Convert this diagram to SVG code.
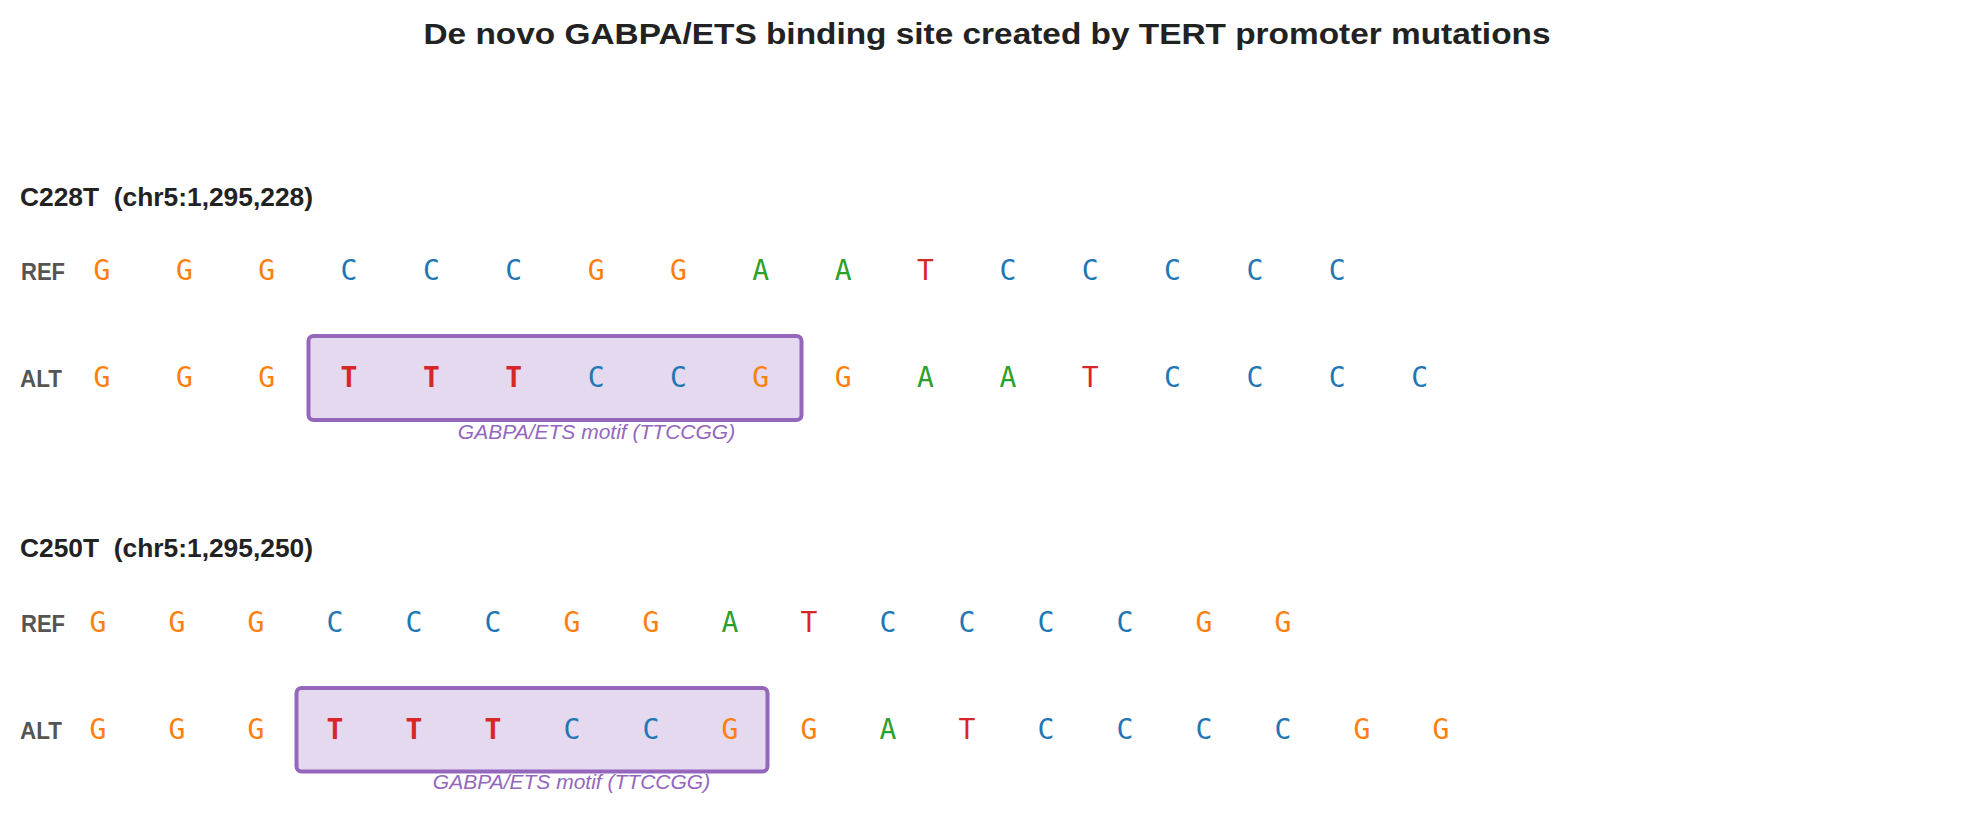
<svg xmlns="http://www.w3.org/2000/svg" width="1974" height="814" viewBox="0 0 1974 814">
<style>
.title{font-family:"Liberation Sans",Arial,sans-serif;font-weight:bold;font-size:30px;fill:#222}
.hdr{font-family:"Liberation Sans",Arial,sans-serif;font-weight:bold;font-size:26px;fill:#222}
.lab{font-family:"Liberation Sans",Arial,sans-serif;font-weight:bold;font-size:24px;fill:#555}
.nt{font-family:"DejaVu Sans Mono",monospace;font-size:28px;text-anchor:middle}
.g{fill:#ff7f0e}.c{fill:#1f77b4}.a{fill:#2ca02c}.t{fill:#d62728}
.b{font-weight:bold}
.motif{fill:#e4d9ee;stroke:#9467bd;stroke-width:4}
.mlab{font-family:"Liberation Sans",Arial,sans-serif;font-style:italic;font-size:21px;fill:#9467bd;text-anchor:middle}
</style>
<rect width="1974" height="814" fill="#ffffff"/>
<text class="title" x="987" y="44" text-anchor="middle" textLength="1127" lengthAdjust="spacingAndGlyphs">De novo GABPA/ETS binding site created by TERT promoter mutations</text>

<g id="c228t">
<text class="hdr" x="20" y="206" xml:space="preserve" textLength="293" lengthAdjust="spacingAndGlyphs">C228T  (chr5:1,295,228)</text>
<g id="c228t-ref">
<text class="lab" x="21" y="280" textLength="44" lengthAdjust="spacingAndGlyphs">REF</text>
<text class="nt g" x="102" y="280">G</text>
<text class="nt g" x="184.35" y="280">G</text>
<text class="nt g" x="266.7" y="280">G</text>
<text class="nt c" x="349.05" y="280">C</text>
<text class="nt c" x="431.4" y="280">C</text>
<text class="nt c" x="513.75" y="280">C</text>
<text class="nt g" x="596.1" y="280">G</text>
<text class="nt g" x="678.45" y="280">G</text>
<text class="nt a" x="760.8" y="280">A</text>
<text class="nt a" x="843.15" y="280">A</text>
<text class="nt t" x="925.5" y="280">T</text>
<text class="nt c" x="1007.85" y="280">C</text>
<text class="nt c" x="1090.2" y="280">C</text>
<text class="nt c" x="1172.55" y="280">C</text>
<text class="nt c" x="1254.9" y="280">C</text>
<text class="nt c" x="1337.25" y="280">C</text>
</g>
<g id="c228t-motif">
<rect class="motif" x="308.5" y="336" width="493" height="84" rx="5"/>
<text class="mlab" x="596.5" y="439">GABPA/ETS motif (TTCCGG)</text>
</g>
<g id="c228t-alt">
<text class="lab" x="20" y="387" textLength="42" lengthAdjust="spacingAndGlyphs">ALT</text>
<text class="nt g" x="102" y="387">G</text>
<text class="nt g" x="184.35" y="387">G</text>
<text class="nt g" x="266.7" y="387">G</text>
<text class="nt t b" x="349.05" y="387">T</text>
<text class="nt t b" x="431.4" y="387">T</text>
<text class="nt t b" x="513.75" y="387">T</text>
<text class="nt c" x="596.1" y="387">C</text>
<text class="nt c" x="678.45" y="387">C</text>
<text class="nt g" x="760.8" y="387">G</text>
<text class="nt g" x="843.15" y="387">G</text>
<text class="nt a" x="925.5" y="387">A</text>
<text class="nt a" x="1007.85" y="387">A</text>
<text class="nt t" x="1090.2" y="387">T</text>
<text class="nt c" x="1172.55" y="387">C</text>
<text class="nt c" x="1254.9" y="387">C</text>
<text class="nt c" x="1337.25" y="387">C</text>
<text class="nt c" x="1419.6" y="387">C</text>
</g>
</g>

<g id="c250t">
<text class="hdr" x="20" y="557" xml:space="preserve" textLength="293" lengthAdjust="spacingAndGlyphs">C250T  (chr5:1,295,250)</text>
<g id="c250t-ref">
<text class="lab" x="21" y="632" textLength="44" lengthAdjust="spacingAndGlyphs">REF</text>
<text class="nt g" x="98" y="632">G</text>
<text class="nt g" x="177" y="632">G</text>
<text class="nt g" x="256" y="632">G</text>
<text class="nt c" x="335" y="632">C</text>
<text class="nt c" x="414" y="632">C</text>
<text class="nt c" x="493" y="632">C</text>
<text class="nt g" x="572" y="632">G</text>
<text class="nt g" x="651" y="632">G</text>
<text class="nt a" x="730" y="632">A</text>
<text class="nt t" x="809" y="632">T</text>
<text class="nt c" x="888" y="632">C</text>
<text class="nt c" x="967" y="632">C</text>
<text class="nt c" x="1046" y="632">C</text>
<text class="nt c" x="1125" y="632">C</text>
<text class="nt g" x="1204" y="632">G</text>
<text class="nt g" x="1283" y="632">G</text>
</g>
<g id="c250t-motif">
<rect class="motif" x="296.5" y="688" width="471" height="83.5" rx="5"/>
<text class="mlab" x="571.5" y="789">GABPA/ETS motif (TTCCGG)</text>
</g>
<g id="c250t-alt">
<text class="lab" x="20" y="739" textLength="42" lengthAdjust="spacingAndGlyphs">ALT</text>
<text class="nt g" x="98" y="739">G</text>
<text class="nt g" x="177" y="739">G</text>
<text class="nt g" x="256" y="739">G</text>
<text class="nt t b" x="335" y="739">T</text>
<text class="nt t b" x="414" y="739">T</text>
<text class="nt t b" x="493" y="739">T</text>
<text class="nt c" x="572" y="739">C</text>
<text class="nt c" x="651" y="739">C</text>
<text class="nt g" x="730" y="739">G</text>
<text class="nt g" x="809" y="739">G</text>
<text class="nt a" x="888" y="739">A</text>
<text class="nt t" x="967" y="739">T</text>
<text class="nt c" x="1046" y="739">C</text>
<text class="nt c" x="1125" y="739">C</text>
<text class="nt c" x="1204" y="739">C</text>
<text class="nt c" x="1283" y="739">C</text>
<text class="nt g" x="1362" y="739">G</text>
<text class="nt g" x="1441" y="739">G</text>
</g>
</g>
<g id="connectors"/>
</svg>
